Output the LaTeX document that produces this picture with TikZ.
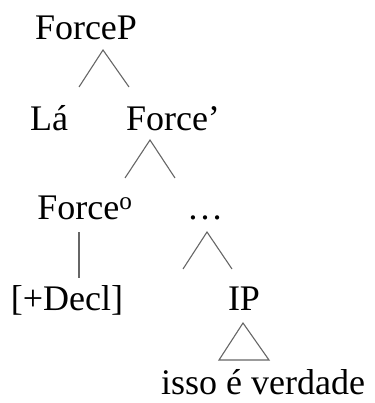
\documentclass[tikz,border=0pt]{standalone}
\usepackage{fontspec}
\setmainfont{Liberation Serif}
\begin{document}
\begin{tikzpicture}[x=1pt,y=-1pt,
	lbl/.style={anchor=base,inner sep=0pt,font=\fontsize{36}{40}\selectfont},
	branch/.style={draw=black!60,line width=1.1pt,line join=miter}]
	\useasboundingbox (0,0) rectangle (374,403);
	% labels, placed on their baselines
	\node[lbl] (forcep) at (86,40) {ForceP};
	\node[lbl] (la) at (49,131) {Lá};
	\node[lbl] (forcebar) at (173,131) {Force'};
	\node[lbl] (forcehead) at (85,219) {Force\textsuperscript{o}};
	\node[lbl] (dots) at (205,219) {\dots};
	\node[lbl] (decl) at (67,310) {[+Decl]};
	\node[lbl] (ip) at (244,310) {IP};
	\node[lbl] (isso) at (263,394) {isso é verdade};
	% branch points
	\coordinate (forcep-a) at (103,50);
	\coordinate (forcep-l) at (79,87);
	\coordinate (forcep-r) at (129,87);
	\coordinate (forcebar-a) at (150,140);
	\coordinate (forcebar-l) at (125,178);
	\coordinate (forcebar-r) at (175,178);
	\coordinate (forcehead-t) at (79,232);
	\coordinate (forcehead-b) at (79,278);
	\coordinate (dots-a) at (207,232);
	\coordinate (dots-l) at (183,269);
	\coordinate (dots-r) at (232,269);
	\coordinate (ip-a) at (243,323);
	\coordinate (ip-l) at (219,360);
	\coordinate (ip-r) at (269,360);
	\draw[branch] (forcep-l)--(forcep-a)--(forcep-r);
	\draw[branch] (forcebar-l)--(forcebar-a)--(forcebar-r);
	\draw[branch] (forcehead-t)--(forcehead-b);
	\draw[branch] (dots-l)--(dots-a)--(dots-r);
	\draw[branch] (ip-a)--(ip-l)--(ip-r)--cycle;
\end{tikzpicture}
\end{document}
